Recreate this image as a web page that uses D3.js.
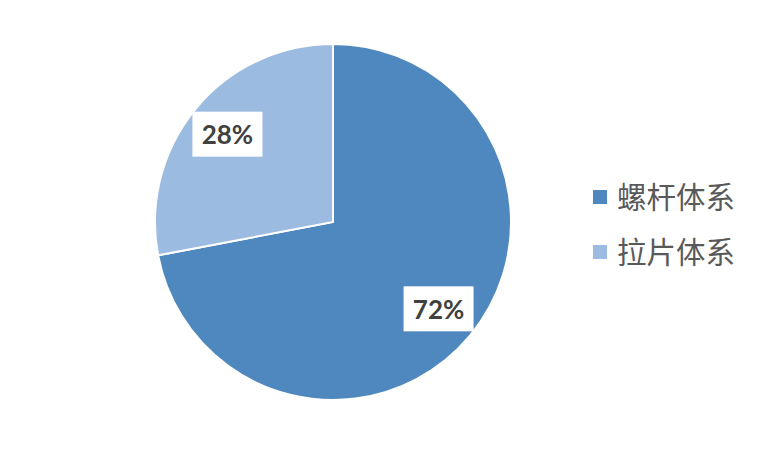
<!DOCTYPE html>
<html><head><meta charset="utf-8">
<script src="https://cdn.jsdelivr.net/npm/d3@7"></script>
<style>body{margin:0;background:#fff}</style>
</head><body>
<svg id="c" width="772" height="450"></svg>
<script>
const categories = ["螺杆体系", "拉片体系"];
const values = [72, 28];
const labels = ["72%", "28%"];
const colors = ["#4F88BE", "#9BBBE0"];

const svg = d3.select("#c");
const cx = 333, cy = 222, r = 178;
const g = svg.append("g").attr("transform", `translate(${cx},${cy})`);
const pie = d3.pie().sort(null).value(d => d)(values);
const arc = d3.arc().innerRadius(0).outerRadius(r);
g.selectAll("path").data(pie).join("path")
  .attr("d", arc).attr("fill", (d,i) => colors[i])
  .attr("stroke", "#fff").attr("stroke-width", 2);

pie.forEach((d,i) => {
  const a = (d.startAngle + d.endAngle)/2;
  const x = Math.sin(a)*137, y = -Math.cos(a)*137;
  const lg = g.append("g").attr("transform", `translate(${x},${y})`);
  lg.append("rect").attr("x", -35).attr("y", -23).attr("width", 70).attr("height", 45).attr("fill", "#fff");
  lg.append("text").attr("text-anchor", "middle").attr("dy", "0.36em")
    .attr("font-family", "Lato, 'Open Sans', sans-serif").attr("font-weight", "bold")
    .attr("font-size", 26).attr("fill", "#404040").text(labels[i]);
});

const leg = svg.append("g");
categories.forEach((c,i) => {
  const y = 197 + i*55;
  leg.append("rect").attr("x", 593).attr("y", y-7).attr("width", 14).attr("height", 14).attr("fill", colors[i]);
  leg.append("text").attr("x", 617).attr("y", y).attr("dy", "0.36em")
    .attr("font-family", "'Noto Sans CJK SC', sans-serif").attr("font-size", 29.5)
    .attr("fill", "#595959").text(c);
});
</script>
</body></html>
